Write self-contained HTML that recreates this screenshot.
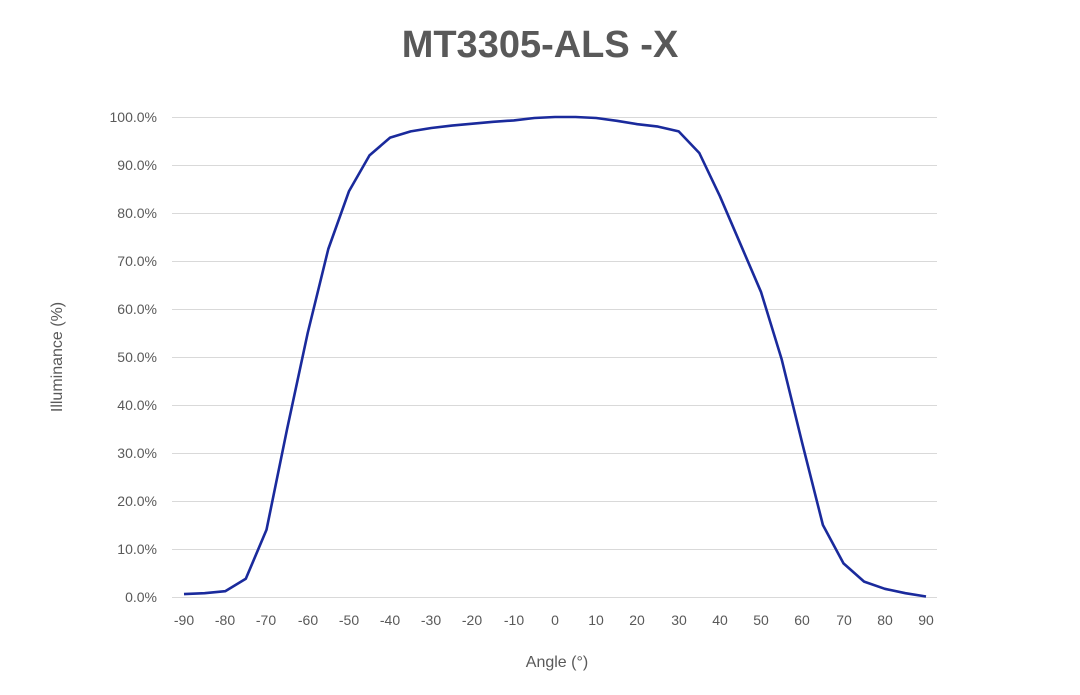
<!DOCTYPE html>
<html><head><meta charset="utf-8"><style>
body{margin:0;background:#fff;}
svg{display:block;font-family:"Liberation Sans",sans-serif;}
</style></head><body>
<svg width="1080" height="695" viewBox="0 0 1080 695" xmlns="http://www.w3.org/2000/svg">
<rect width="1080" height="695" fill="#fff"/>
<text x="540" y="57" text-anchor="middle" font-size="38" font-weight="bold" fill="#595959">MT3305-ALS -X</text>
<g stroke="#d9d9d9" stroke-width="1">
<line x1="172" x2="937" y1="117.5" y2="117.5"/>
<line x1="172" x2="937" y1="165.5" y2="165.5"/>
<line x1="172" x2="937" y1="213.5" y2="213.5"/>
<line x1="172" x2="937" y1="261.5" y2="261.5"/>
<line x1="172" x2="937" y1="309.5" y2="309.5"/>
<line x1="172" x2="937" y1="357.5" y2="357.5"/>
<line x1="172" x2="937" y1="405.5" y2="405.5"/>
<line x1="172" x2="937" y1="453.5" y2="453.5"/>
<line x1="172" x2="937" y1="501.5" y2="501.5"/>
<line x1="172" x2="937" y1="549.5" y2="549.5"/>
<line x1="172" x2="937" y1="597.5" y2="597.5"/>
</g>
<g font-size="14" fill="#595959" text-anchor="end">
<text x="157" y="122">100.0%</text><text x="157" y="170">90.0%</text><text x="157" y="218">80.0%</text>
<text x="157" y="266">70.0%</text><text x="157" y="314">60.0%</text><text x="157" y="362">50.0%</text>
<text x="157" y="410">40.0%</text><text x="157" y="458">30.0%</text><text x="157" y="506">20.0%</text>
<text x="157" y="554">10.0%</text><text x="157" y="602">0.0%</text>
</g>
<g font-size="14" fill="#595959" text-anchor="middle">
<text x="184" y="625">-90</text><text x="225" y="625">-80</text><text x="266" y="625">-70</text>
<text x="308" y="625">-60</text><text x="349" y="625">-50</text><text x="390" y="625">-40</text>
<text x="431" y="625">-30</text><text x="472" y="625">-20</text><text x="514" y="625">-10</text>
<text x="555" y="625">0</text><text x="596" y="625">10</text><text x="637" y="625">20</text>
<text x="679" y="625">30</text><text x="720" y="625">40</text><text x="761" y="625">50</text>
<text x="802" y="625">60</text><text x="844" y="625">70</text><text x="885" y="625">80</text>
<text x="926" y="625">90</text>
</g>
<text x="557" y="667" text-anchor="middle" font-size="16" fill="#595959">Angle  (°)</text>
<text transform="translate(62,357) rotate(-90)" text-anchor="middle" font-size="16" fill="#595959">Illuminance  (%)</text>
<polyline fill="none" stroke="#1a2a9c" stroke-width="2.6" stroke-linejoin="round" points="
184,594.1 204.6,593.2 225.2,591.2 245.8,578.8 266.5,529.8 287.1,429 307.7,333 328.3,249 348.9,191.4 369.5,155.4 390.1,137.6 410.7,131.4 431.3,128 451.9,125.6 472.5,123.7 493.2,121.8 513.8,120.4 534.4,118 555,117 575.6,117 596.2,118 616.8,120.8 637.4,124.2 658,126.6 678.7,131.4 699.3,153 719.9,196.2 740.5,244.2 761.1,292.2 781.7,359.4 802.3,443.4 822.9,525 843.5,563.4 864.1,581.6 884.8,588.8 905.4,593.2 926,596.5"/>
</svg>
</body></html>
